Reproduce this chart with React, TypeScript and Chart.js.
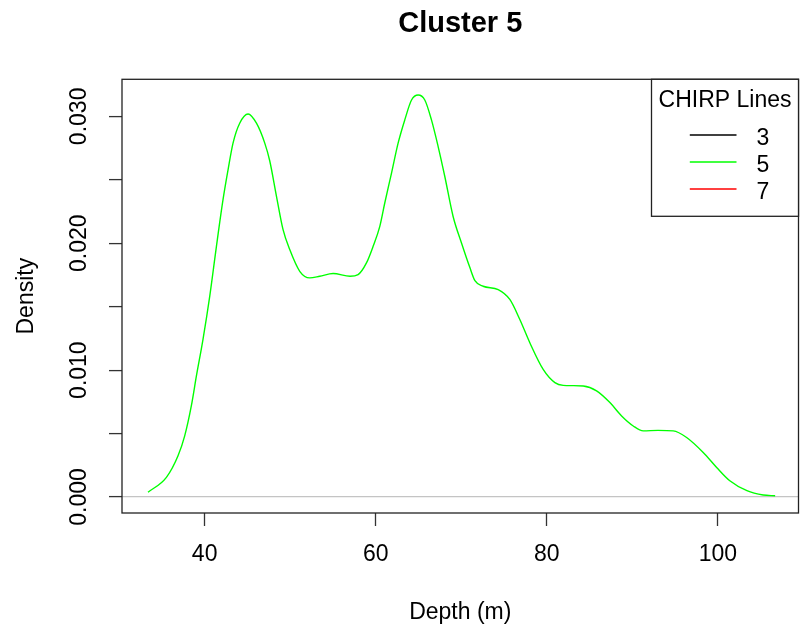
import React, { useEffect, useRef } from 'react';
import { Chart, registerables } from 'chart.js';

Chart.register(...registerables);

const TITLE = 'Cluster 5';
const X_LABEL = 'Depth (m)';
const Y_LABEL = 'Density';
const LEGEND_TITLE = 'CHIRP Lines';
const SERIES_NAMES = ['3', '5', '7'];
const SERIES_COLORS = ['#000000', '#00ff00', '#ff0000'];

// Density curve of CHIRP line 5 (lines 3 and 7 have no data in this cluster)
const DEPTH = [
  33.38, 35.53, 36.89, 37.67, 38.45, 39.04, 39.81, 40.6, 41.38, 42.15, 42.74, 43.32,
  44.1, 45.08, 46.06, 47.03, 47.61, 48.4, 49.17, 49.95, 51.12, 52.29, 53.46, 55.02,
  57.0, 57.94, 58.92, 59.7, 60.48, 61.06, 61.85, 62.62, 63.4, 64.19, 64.96, 65.74,
  66.52, 67.3, 68.08, 69.05, 70.04, 71.0, 71.6, 72.56, 74.32, 75.68, 76.85, 78.02,
  79.58, 80.95, 81.92, 83.0, 84.26, 85.82, 87.38, 88.75, 90.11, 91.28, 93.0, 94.78,
  96.35, 98.29, 99.86, 101.4, 103.4, 105.3, 106.7,
];
const DENSITY = [
  0.00037, 0.00155, 0.00325, 0.00482, 0.0072, 0.00954, 0.01242, 0.01583, 0.01976, 0.02343, 0.02579, 0.02789,
  0.02946, 0.03019, 0.02946, 0.02789, 0.0265, 0.0237, 0.02107, 0.0195, 0.01779, 0.01727, 0.0174, 0.01761,
  0.0174, 0.01753, 0.01845, 0.01976, 0.02133, 0.02317, 0.02553, 0.02789, 0.02972, 0.03129, 0.03168, 0.03129,
  0.02972, 0.02762, 0.02526, 0.02211, 0.0200, 0.0181, 0.01705, 0.01661, 0.01635, 0.01557, 0.01399, 0.01216,
  0.01006, 0.00902, 0.0088, 0.00878, 0.00875, 0.00836, 0.00744, 0.00639, 0.0056, 0.00521, 0.00525, 0.00521,
  0.00469, 0.00351, 0.00233, 0.00128, 0.0005, 0.00016, 0.0001,
];

const X_TICKS = [40, 60, 80, 100];
const Y_TICKS = [0, 0.005, 0.01, 0.015, 0.02, 0.025, 0.03];
const Y_TICK_LABELS = ['0.000', '', '0.010', '', '0.020', '', '0.030'];
const X_MIN = 30.34;
const X_MAX = 109.43;
const Y_MIN = -0.00126;
const Y_MAX = 0.03292;

const FONT = "'Liberation Sans', Arial, sans-serif";
const FS = 23;

const rPlotPlugin = {
  id: 'rplot',
  afterDatasetsDraw(chart: any) {
    const { ctx, chartArea: ca } = chart;
    ctx.save();
    ctx.strokeStyle = '#222';
    ctx.lineWidth = 1.3;
    ctx.strokeRect(ca.left, ca.top, ca.right - ca.left, ca.bottom - ca.top);

    const w = 147;
    const h = 137;
    const x0 = ca.right - w;
    const y0 = ca.top;
    ctx.fillStyle = '#ffffff';
    ctx.fillRect(x0, y0, w, h);
    ctx.strokeRect(x0, y0, w, h);
    ctx.font = `${FS}px ${FONT}`;
    ctx.fillStyle = '#000000';
    ctx.textAlign = 'center';
    ctx.textBaseline = 'alphabetic';
    ctx.fillText(LEGEND_TITLE, x0 + w / 2, y0 + 27.4);
    chart.data.datasets.forEach((ds: any, i: number) => {
      const y = y0 + 55.7 + i * 27;
      ctx.strokeStyle = ds.borderColor;
      ctx.lineWidth = 1.3;
      ctx.beginPath();
      ctx.moveTo(x0 + 38.3, y);
      ctx.lineTo(x0 + 85, y);
      ctx.stroke();
      ctx.textAlign = 'left';
      ctx.fillStyle = '#000000';
      ctx.fillText(ds.label, x0 + 105, y + 10);
    });
    ctx.restore();
  },
};

export default function App() {
  const ref = useRef<HTMLCanvasElement | null>(null);

  useEffect(() => {
    document.body.style.margin = '0';
    const canvas = ref.current;
    if (!canvas) return;

    const datasets = SERIES_NAMES.map((name, i) => ({
      label: name,
      data: name === '5' ? DEPTH.map((d, j) => ({ x: d, y: DENSITY[j] })) : [],
      borderColor: SERIES_COLORS[i],
      backgroundColor: SERIES_COLORS[i],
      borderWidth: 1.4,
      pointRadius: 0,
      fill: false,
      cubicInterpolationMode: 'monotone' as const,
    }));

    const chart = new Chart(canvas, {
      type: 'line',
      data: { datasets },
      plugins: [rPlotPlugin],
      options: {
        responsive: false,
        animation: false,
        devicePixelRatio: 1,
        layout: { padding: { top: 0, left: 0, right: 2.5, bottom: 0 } },
        plugins: {
          legend: { display: false },
          tooltip: { enabled: false },
          title: {
            display: true,
            text: TITLE,
            fullSize: false,
            color: '#000000',
            font: { family: FONT, size: 29, weight: 'bold' },
            padding: { top: 6.9, bottom: 37.6 },
          },
        },
        scales: {
          x: {
            type: 'linear',
            min: X_MIN,
            max: X_MAX,
            afterBuildTicks: (scale: any) => {
              scale.ticks = X_TICKS.map((v) => ({ value: v }));
            },
            afterFit: (scale: any) => {
              scale.height = 121;
            },
            border: { display: false },
            grid: {
              drawOnChartArea: false,
              drawTicks: true,
              tickLength: 13,
              tickColor: '#333333',
              tickWidth: 1.3,
            },
            ticks: {
              autoSkip: false,
              maxRotation: 0,
              padding: 15.2,
              color: '#000000',
              font: { family: FONT, size: FS },
              callback: (v: any) => String(v),
            },
            title: {
              display: true,
              text: X_LABEL,
              color: '#000000',
              font: { family: FONT, size: FS },
              padding: { top: 0, bottom: 8 },
            },
          },
          y: {
            type: 'linear',
            min: Y_MIN,
            max: Y_MAX,
            afterBuildTicks: (scale: any) => {
              scale.ticks = Y_TICKS.map((v) => ({ value: v }));
            },
            afterFit: (scale: any) => {
              scale.width = 122;
            },
            border: { display: false },
            grid: {
              drawOnChartArea: true,
              drawTicks: true,
              tickLength: 13,
              tickColor: '#333333',
              tickWidth: 1.3,
              lineWidth: 1.2,
              color: (c: any) => (c.tick && c.tick.value === 0 ? '#c4c4c4' : 'rgba(0,0,0,0)'),
            },
            ticks: {
              autoSkip: false,
              minRotation: 90,
              maxRotation: 90,
              crossAlign: 'center',
              padding: 0.5,
              color: '#000000',
              font: { family: FONT, size: FS },
              callback: (_v: any, i: number) => Y_TICK_LABELS[i],
            },
            title: {
              display: true,
              text: Y_LABEL,
              color: '#000000',
              font: { family: FONT, size: FS },
              padding: { top: 12.4, bottom: 0 },
            },
          },
        },
      },
    });

    return () => chart.destroy();
  }, []);

  return (
    <div style={{ width: 801, height: 634, background: '#ffffff' }}>
      <canvas ref={ref} width={801} height={634} style={{ display: 'block' }} />
    </div>
  );
}
